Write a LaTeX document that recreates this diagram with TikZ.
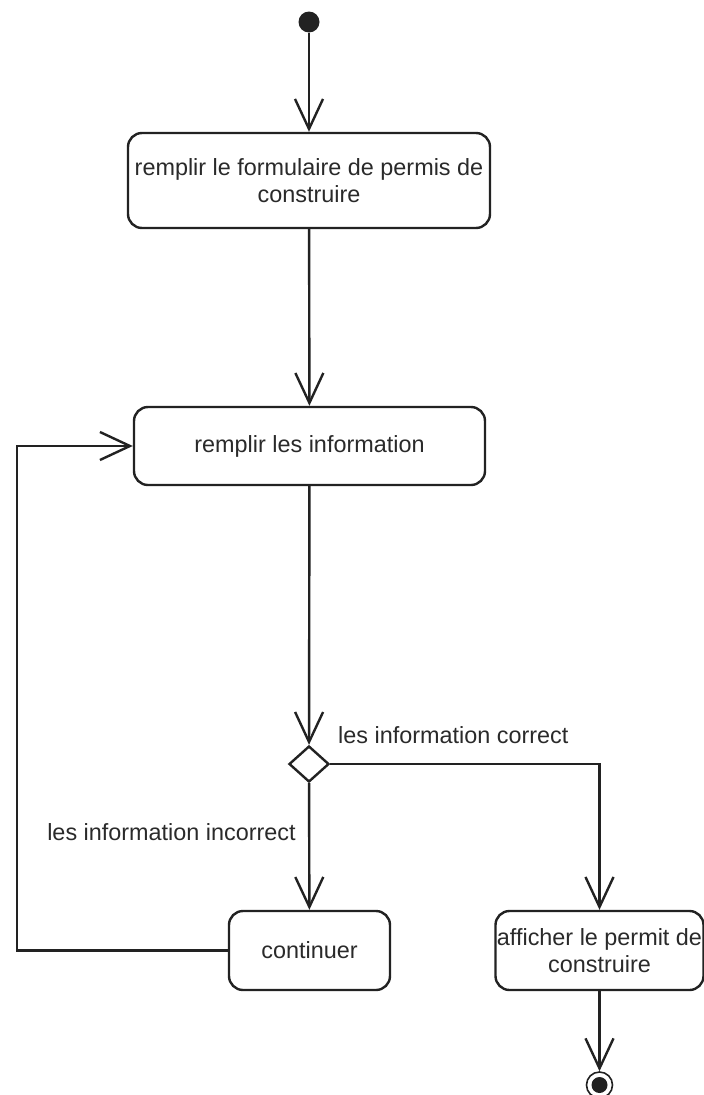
\documentclass[tikz,border=0pt]{standalone}
\usepackage{fontspec}
\setmainfont{Liberation Sans}
\usetikzlibrary{arrows.meta,shapes.geometric}
\definecolor{ink}{HTML}{222222}
\definecolor{txt}{HTML}{2A2A2A}
\begin{document}
\begin{tikzpicture}[x=1pt,y=-1pt,
  every node/.style={font=\fontsize{23.4}{26.5}\selectfont, text=txt},
  action/.style={draw=ink, line width=2.4pt, rounded corners=14pt, fill=white,
                 align=center, inner sep=0pt},
  decision/.style={draw=ink, line width=2.4pt, shape=diamond, fill=white,
                   minimum width=40pt, minimum height=36pt, inner sep=0pt},
  flow/.style={draw=ink, line width=2.4pt,
               -{Straight Barb[length=30pt,width=28pt,line width=2.4pt]}},
  guard/.style={inner sep=0pt}
]
\useasboundingbox (0,0) rectangle (704,1095);

% initial and final states
\node[circle, fill=ink, minimum size=21pt, inner sep=0pt] (start) at (309,22) {};
\node[circle, draw=ink, line width=1.6pt, minimum size=26pt, inner sep=0pt] (stop) at (599.5,1085) {};
\fill[ink] (stop.center) circle (8pt);

% actions
\node[action, minimum width=362pt, minimum height=95pt] (form) at (309,180.5)
  {remplir le formulaire de permis de\\construire};
\node[action, minimum width=351pt, minimum height=78pt] (info) at (309.5,446)
  {remplir les information};
\node[decision] (check) at (309,764) {};
\node[action, minimum width=161pt, minimum height=79pt] (cont) at (309.5,950.5)
  {continuer};
\node[action, minimum width=208pt, minimum height=79pt] (show) at (599.5,950.5)
  {afficher le permit de\\construire};

% guards
\node[guard, anchor=west] (ok) at (338,735) {les information correct};
\node[guard] (ko) at (171.5,832) {les information incorrect};

% control flow
\coordinate (loopL) at (17,700);
\draw[flow] (start) -- (form);
\draw[flow] (form) -- (info);
\draw[flow] (info) -- (check);
\draw[flow] (check) -- (cont);
\draw[flow] (check.east) -| (show.north);
\draw[flow] (cont.west) -| (loopL) |- (info.west);
\draw[flow] (show.south) -- (stop.north);
\end{tikzpicture}
\end{document}
